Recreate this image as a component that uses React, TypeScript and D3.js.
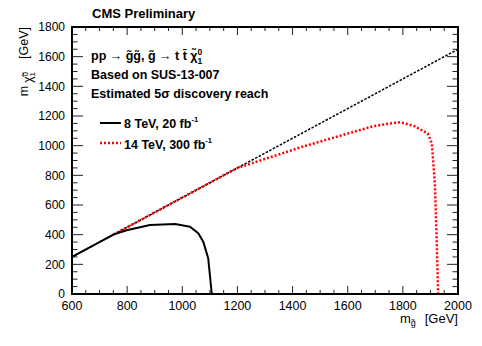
import React from "react";
import * as d3 from "d3";

// ---- data ----
const xTicks = [600, 800, 1000, 1200, 1400, 1600, 1800, 2000];
const yTicks = [0, 200, 400, 600, 800, 1000, 1200, 1400, 1600, 1800];

const diagGluino = [600, 2000];
const diagLSP = [250, 1650];

const gluino8 = [600, 750, 798, 883, 974, 1028, 1058, 1076, 1094, 1107];
const lsp8 = [250, 400, 430, 465, 472, 454, 409, 353, 241, 0];

const gluino14 = [750, 1200, 1440, 1690, 1740, 1790, 1840, 1890, 1905, 1916, 1922, 1928];
const lsp14 = [400, 850, 995, 1130, 1146, 1158, 1133, 1083, 1016, 746, 409, 0];

const legendLabels = ["8 TeV, 20 fb", "14 TeV, 300 fb"];

const W = 482;
const H = 346;
const L = 72, R = 458, T = 27, B = 294;
const FONT = "'Liberation Sans', Arial, Helvetica, sans-serif";

export default function App() {
  const x = d3.scaleLinear().domain([600, 2000]).range([L, R]);
  const y = d3.scaleLinear().domain([0, 1800]).range([B, T]);
  const line = d3
    .line<[number, number]>()
    .x((d) => x(d[0]))
    .y((d) => y(d[1]));

  const diag = diagGluino.map((g, i) => [g, diagLSP[i]] as [number, number]);
  const c8 = gluino8.map((g, i) => [g, lsp8[i]] as [number, number]);
  const c14 = gluino14.map((g, i) => [g, lsp14[i]] as [number, number]);

  const xMinor = d3.range(600, 2001, 50);
  const yMinor = d3.range(0, 1801, 50);

  const tickStroke = "#222";

  return (
    <svg
      width={W}
      height={H}
      style={{ position: "absolute", left: 0, top: 0, background: "#fff" }}
      fontFamily={FONT}
    >
      <rect x={0} y={0} width={W} height={H} fill="#fff" />
      {/* ticks x */}
      {xMinor.map((v) => {
        const major = v % 200 === 0;
        const len = major ? 8 : 4;
        return (
          <g key={"xt" + v}>
            <line x1={x(v)} x2={x(v)} y1={B} y2={B - len} stroke={tickStroke} strokeWidth={1} />
            <line x1={x(v)} x2={x(v)} y1={T} y2={T + len} stroke={tickStroke} strokeWidth={1} />
          </g>
        );
      })}
      {yMinor.map((v) => {
        const major = v % 200 === 0;
        const len = major ? 11 : 5.5;
        return (
          <g key={"yt" + v}>
            <line x1={L} x2={L + len} y1={y(v)} y2={y(v)} stroke={tickStroke} strokeWidth={1} />
            <line x1={R} x2={R - len} y1={y(v)} y2={y(v)} stroke={tickStroke} strokeWidth={1} />
          </g>
        );
      })}
      {/* tick labels */}
      {xTicks.map((v) => (
        <text key={"xl" + v} x={x(v)} y={309.5} textAnchor="middle" fontSize={12.5} fill="#000">
          {v}
        </text>
      ))}
      {yTicks.map((v) => (
        <text key={"yl" + v} x={65} y={y(v)} dy="0.36em" textAnchor="end" fontSize={12} fill="#000">
          {v}
        </text>
      ))}

      {/* curves */}
      <path d={line(diag) || ""} fill="none" stroke="#000" strokeWidth={1.5} strokeDasharray="2.5,1.5" />
      <path d={line(c14) || ""} fill="none" stroke="#ff0000" strokeWidth={2.5} strokeDasharray="2,2" />
      <path d={line(c8) || ""} fill="none" stroke="#000" strokeWidth={2} strokeLinejoin="round" />

      {/* frame */}
      <rect x={L} y={T} width={R - L} height={B - T} fill="none" stroke="#000" strokeWidth={2} />

      {/* title */}
      <text x={92} y={18} fontSize={13} fontWeight="bold">CMS Preliminary</text>

      {/* info text */}
      <text x={91} y={60} fontSize={12.5} fontWeight="bold">
        pp → g̃g̃,  g̃ → t t̄ χ̃
        <tspan fontSize={8.5} dy={-5}>0</tspan>
        <tspan fontSize={8.5} dx={-4.7} dy={9}>1</tspan>
      </text>
      <text x={91} y={79} fontSize={12.5} fontWeight="bold">Based on SUS-13-007</text>
      <text x={91} y={98} fontSize={12.5} fontWeight="bold">Estimated 5σ discovery reach</text>

      {/* legend */}
      <line x1={100} x2={121} y1={123} y2={123} stroke="#000" strokeWidth={2} />
      <text x={124} y={127.5} fontSize={12.5} fontWeight="bold">
        {legendLabels[0]}
        <tspan fontSize={7.5} dy={-6}>-1</tspan>
      </text>
      <line x1={100} x2={121} y1={143} y2={143} stroke="#ff0000" strokeWidth={2.5} strokeDasharray="2,2" />
      <text x={124} y={148.5} fontSize={12.5} fontWeight="bold">
        {legendLabels[1]}
        <tspan fontSize={7.5} dy={-6}>-1</tspan>
      </text>

      {/* axis titles */}
      <text x={458} y={323} textAnchor="end" fontSize={13}>
        m<tspan fontSize={9} dy={3}>g̃</tspan>
        <tspan dx={9} dy={-3}>[GeV]</tspan>
      </text>
      <text transform="translate(28,27) rotate(-90)" textAnchor="end" fontSize={12.5}>
        m<tspan fontSize={12} dx={3} dy={4}>χ̃</tspan>
        <tspan fontSize={8} dy={-4}>0</tspan>
        <tspan fontSize={8} dx={-4.4} dy={7}>1</tspan>
        <tspan dx={13} dy={-7}>[GeV]</tspan>
      </text>
    </svg>
  );
}
